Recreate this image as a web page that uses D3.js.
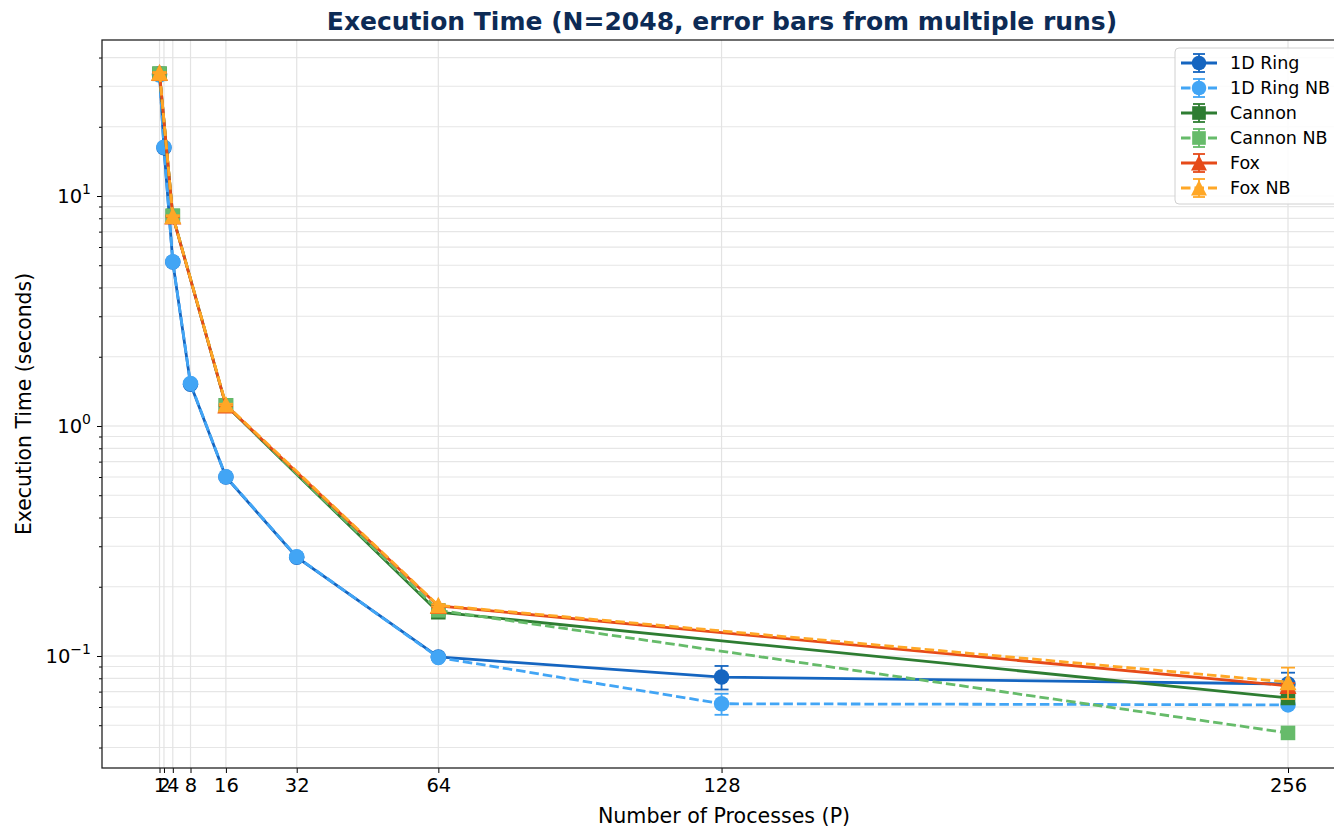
<!DOCTYPE html>
<html><head><meta charset="utf-8">
<script src="https://cdn.jsdelivr.net/npm/d3@7"></script>
<style>
html,body{margin:0;padding:0;background:#fff;}
svg{display:block;font-family:"DejaVu Sans",sans-serif;}
</style></head>
<body><svg id="chart" width="1334" height="828"></svg>
<script>
// ---- data ----
const procsRing = [1, 2, 4, 8, 16, 32, 64, 128, 256];
const procsSquare = [1, 4, 16, 64, 256];
const ringTime   = [33.9, 16.2, 5.16, 1.52, 0.600, 0.269, 0.0990, 0.0810, 0.0756];
const ringErr    = [0.3, 0.1, 0.03, 0.01, 0.004, 0.002, 0.001, 0.0095, 0.009];
const ringNBTime = [33.6, 16.3, 5.18, 1.53, 0.602, 0.270, 0.0985, 0.0620, 0.0613];
const ringNBErr  = [0.3, 0.1, 0.03, 0.01, 0.004, 0.002, 0.001, 0.0065, 0.001];
const cannonTime   = [34.0, 8.19, 1.23, 0.155, 0.0657];
const cannonErr    = [0.2, 0.05, 0.01, 0.002, 0.002];
const cannonNBTime = [34.0, 8.20, 1.23, 0.158, 0.0463];
const cannonNBErr  = [0.2, 0.05, 0.01, 0.002, 0.001];
const foxTime   = [34.3, 8.15, 1.23, 0.165, 0.0742];
const foxErr    = [0.2, 0.05, 0.01, 0.002, 0.002];
const foxNBTime = [34.4, 8.20, 1.24, 0.166, 0.0770];
const foxNBErr  = [0.2, 0.05, 0.01, 0.002, 0.012];
const seriesNames = ["1D Ring", "1D Ring NB", "Cannon", "Cannon NB", "Fox", "Fox NB"];
const xTicks = [1, 2, 4, 8, 16, 32, 64, 128, 256];
const yMajorTicks = [0.1, 1, 10];
const yTickExp = ["−1", "0", "1"];
const titleText = "Execution Time (N=2048, error bars from multiple runs)";
const xLabel = "Number of Processes (P)";
const yLabel = "Execution Time (seconds)";

const series = [
  {name: seriesNames[0], xs: procsRing, ys: ringTime, err: ringErr, color: "#1565C0", dash: null, marker: "circle"},
  {name: seriesNames[1], xs: procsRing, ys: ringNBTime, err: ringNBErr, color: "#42A5F5", dash: "9.5,4", marker: "circle"},
  {name: seriesNames[2], xs: procsSquare, ys: cannonTime, err: cannonErr, color: "#2E7D32", dash: null, marker: "square"},
  {name: seriesNames[3], xs: procsSquare, ys: cannonNBTime, err: cannonNBErr, color: "#66BB6A", dash: "9.5,4", marker: "square"},
  {name: seriesNames[4], xs: procsSquare, ys: foxTime, err: foxErr, color: "#E64A19", dash: null, marker: "triangle"},
  {name: seriesNames[5], xs: procsSquare, ys: foxNBTime, err: foxNBErr, color: "#FFA726", dash: "9.5,4", marker: "triangle"}
];

// ---- layout ----
const L = 102, R = 1340, T = 40, B = 768;
const svg = d3.select("#chart");
const x = d3.scaleLinear().domain([-12.0, 267.75]).range([L, R]);
const y = d3.scaleLog().domain([Math.pow(10, -1.487), Math.pow(10, 1.6783)]).range([B, T]);

// minor ticks
const yMinor = [];
for (let e = -2; e <= 1; e++) for (let m = 2; m <= 9; m++) {
  const v = m * Math.pow(10, e);
  if (v > y.domain()[0] && v < y.domain()[1]) yMinor.push(v);
}

const grid = svg.append("g");
grid.selectAll(".gmin").data(yMinor).join("line")
  .attr("x1", L).attr("x2", R).attr("y1", d => y(d)).attr("y2", d => y(d))
  .attr("stroke", "#e6e6e6").attr("stroke-width", 1.2);
grid.selectAll(".gmaj").data(yMajorTicks).join("line")
  .attr("x1", L).attr("x2", R).attr("y1", d => y(d)).attr("y2", d => y(d))
  .attr("stroke", "#e0e0e0").attr("stroke-width", 1.2);
grid.selectAll(".gx").data(xTicks).join("line")
  .attr("x1", d => x(d)).attr("x2", d => x(d)).attr("y1", T).attr("y2", B)
  .attr("stroke", "#e3e3e3").attr("stroke-width", 1.2);

// axes
const xAxis = d3.axisBottom(x).tickValues(xTicks).tickFormat(d3.format("d")).tickSizeOuter(0).tickSize(5).tickPadding(5);
const gx = svg.append("g").attr("transform", `translate(0,${B})`).call(xAxis);
gx.select(".domain").remove();
gx.selectAll("text").attr("font-size", 19.5).attr("fill", "#000").attr("font-family", "DejaVu Sans");
gx.selectAll("line").attr("stroke", "#000");

const gyMinor = svg.append("g").attr("transform", `translate(${L},0)`)
  .call(d3.axisLeft(y).tickValues(yMinor).tickFormat("").tickSize(3).tickSizeOuter(0));
gyMinor.select(".domain").remove();
const gy = svg.append("g").attr("transform", `translate(${L},0)`)
  .call(d3.axisLeft(y).tickValues(yMajorTicks).tickFormat("").tickSize(5).tickSizeOuter(0));
gy.select(".domain").remove();
svg.selectAll(".tick line").attr("stroke", "#000");

// y tick labels with superscripts
const ylab = svg.append("g");
yMajorTicks.forEach((v, i) => {
  const t = ylab.append("text").attr("x", L - 11).attr("y", y(v) + 7)
    .attr("text-anchor", "end").attr("font-size", 19.5).attr("fill", "#000");
  t.append("tspan").text("10");
  t.append("tspan").attr("dy", -9).attr("font-size", 14).text(yTickExp[i]);
});

// spines
svg.append("rect").attr("x", L).attr("y", T).attr("width", R - L).attr("height", B - T)
  .attr("fill", "none").attr("stroke", "#222").attr("stroke-width", 1.3);

// marker drawing
function drawMarker(g, type, cx, cy, color, s) {
  if (type === "circle") {
    g.append("circle").attr("cx", cx).attr("cy", cy).attr("r", s * 0.5).attr("fill", color);
  } else if (type === "square") {
    const h = s * 0.47;
    g.append("rect").attr("x", cx - h).attr("y", cy - h).attr("width", 2 * h).attr("height", 2 * h).attr("fill", color);
  } else {
    const h = s * 0.55;
    g.append("path").attr("d", `M${cx},${cy - h}L${cx + h},${cy + h * 0.95}L${cx - h},${cy + h * 0.95}Z`).attr("fill", color);
  }
}

const plot = svg.append("g");
const line = d3.line().x(d => x(d[0])).y(d => y(d[1]));
series.forEach(s => {
  const g = plot.append("g");
  const pts = s.xs.map((xv, i) => [xv, s.ys[i], s.err[i]]);
  // error bars
  pts.forEach(p => {
    const y1 = y(p[1] + p[2]), y2 = y(Math.max(p[1] - p[2], 1e-6));
    g.append("line").attr("x1", x(p[0])).attr("x2", x(p[0])).attr("y1", y1).attr("y2", y2)
      .attr("stroke", s.color).attr("stroke-width", 1.8);
    [y1, y2].forEach(yy => g.append("line").attr("x1", x(p[0]) - 7).attr("x2", x(p[0]) + 7)
      .attr("y1", yy).attr("y2", yy).attr("stroke", s.color).attr("stroke-width", 1.8));
  });
  g.append("path").attr("d", line(pts)).attr("fill", "none").attr("stroke", s.color)
    .attr("stroke-width", 2.8).attr("stroke-dasharray", s.dash);
  pts.forEach(p => drawMarker(g, s.marker, x(p[0]), y(p[1]), s.color, 15.5));
});

// legend
const lg = svg.append("g");
lg.append("rect").attr("x", 1175).attr("y", 48).attr("width", 175).attr("height", 156).attr("rx", 4)
  .attr("fill", "rgba(255,255,255,0.85)").attr("stroke", "#d0d0d0").attr("stroke-width", 1);
series.forEach((s, i) => {
  const cy = 63 + i * 25;
  const g = lg.append("g");
  g.append("line").attr("x1", 1181).attr("x2", 1217).attr("y1", cy).attr("y2", cy)
    .attr("stroke", s.color).attr("stroke-width", 2.8).attr("stroke-dasharray", s.dash ? "9.5,4" : null);
  g.append("line").attr("x1", 1199).attr("x2", 1199).attr("y1", cy - 9).attr("y2", cy + 9)
    .attr("stroke", s.color).attr("stroke-width", 1.8);
  [cy - 9, cy + 9].forEach(yy => g.append("line").attr("x1", 1193).attr("x2", 1205)
    .attr("y1", yy).attr("y2", yy).attr("stroke", s.color).attr("stroke-width", 1.8));
  drawMarker(g, s.marker, 1199, cy, s.color, 14.5);
  lg.append("text").attr("x", 1230).attr("y", cy + 6).attr("font-size", 17.5).attr("fill", "#000").text(s.name);
});

// titles
svg.append("text").attr("x", (L + R) / 2 + 1).attr("y", 30).attr("text-anchor", "middle")
  .attr("font-size", 25).attr("font-weight", "bold").attr("fill", "#0d2b55").text(titleText);
svg.append("text").attr("x", 724).attr("y", 823).attr("text-anchor", "middle")
  .attr("font-size", 20.6).attr("fill", "#000").text(xLabel);
svg.append("text").attr("transform", `translate(31,${(T + B) / 2}) rotate(-90)`).attr("text-anchor", "middle")
  .attr("font-size", 20.4).attr("fill", "#000").text(yLabel);
</script></body></html>
